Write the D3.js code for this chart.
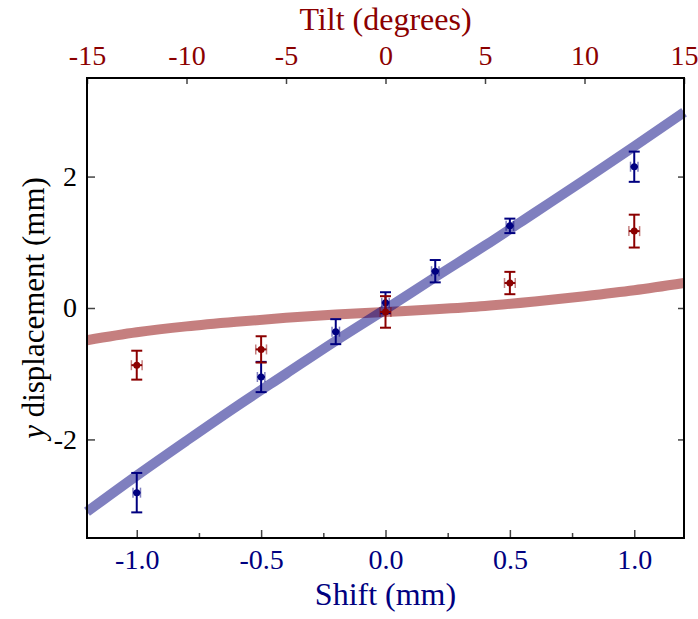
<!DOCTYPE html>
<html>
<head>
<meta charset="utf-8">
<script src="https://cdn.jsdelivr.net/npm/d3@7"></script>
<style>
  body { margin: 0; background: #fff; }
  text { font-family: "Liberation Serif", "DejaVu Serif", serif; }
</style>
</head>
<body>
<script>

// measured points, shift scan (mm)
var shiftX   = [-1.0, -0.5, -0.2, 0.0, 0.2, 0.5, 1.0];
var shiftY   = [-2.81, -1.05, -0.36, 0.08, 0.56, 1.25, 2.15];
var shiftErr = [0.30, 0.23, 0.19, 0.16, 0.17, 0.11, 0.23];
var shiftXErr = 0.015;

// measured points, tilt scan (degrees)
var tiltX   = [-12.5, -6.25, 0, 6.25, 12.5];
var tiltY   = [-0.87, -0.63, -0.06, 0.38, 1.17];
var tiltErr = [0.22, 0.20, 0.24, 0.17, 0.25];
var tiltXErr = 0.27;

// model curves
var shiftFitX = [-1.2, -1.0, -0.8, -0.6, -0.4, -0.2, 0.0, 0.2, 0.4, 0.6, 0.8, 1.0, 1.2];
var shiftFitY = [-3.10, -2.55, -2.02, -1.50, -1.00, -0.50, -0.02, 0.47, 0.95, 1.45, 1.95, 2.46, 2.98];
var tiltFitX = [-15, -12.5, -10, -7.5, -5, -2.5, 0, 2.5, 5, 7.5, 10, 12.5, 15];
var tiltFitY = [-0.49, -0.37, -0.28, -0.21, -0.15, -0.10, -0.06, -0.02, 0.03, 0.10, 0.18, 0.27, 0.38];

var shiftTicks = [-1.0, -0.5, 0.0, 0.5, 1.0];
var shiftMinor = [-0.75, -0.25, 0.25, 0.75];
var tiltTicks = [-15, -10, -5, 0, 5, 10, 15];
var yTicks = [-2, 0, 2];

var width = 698,
    height = 619;
var margin = { left: 87, right: 14, top: 78, bottom: 81 };
var w = width - margin.left - margin.right,
    h = height - margin.top - margin.bottom;

var blue = '#000080',
    red = '#8b0000';

// plain hyphen for negatives, like the original
var fmt1 = d => d3.format('.1f')(d).replace('\u2212', '-');
var fmt0 = d => String(d);

var svg = d3.select('body')
  .append('svg')
  .attr('width', width)
  .attr('height', height);

var g = svg.append('g')
  .attr('transform', 'translate(' + margin.left + ',' + margin.top + ')');

var x = d3.scaleLinear().domain([-1.2, 1.2]).range([0, w]);
var xt = d3.scaleLinear().domain([-15, 15]).range([0, w]);
var y = d3.scaleLinear().domain([-3.5, 3.5]).range([h, 0]);

// axes
var axBottom = g.append('g')
  .attr('transform', 'translate(0,' + h + ')')
  .call(d3.axisBottom(x).tickValues(shiftTicks).tickSize(-8).tickPadding(11).tickFormat(fmt1));
g.append('g')
  .attr('transform', 'translate(0,' + h + ')')
  .call(d3.axisBottom(x).tickValues(shiftMinor).tickSize(-5).tickFormat(''));
var axTop = g.append('g')
  .call(d3.axisTop(xt).tickValues(tiltTicks).tickSize(-6).tickPadding(13).tickFormat(fmt0));
var axLeft = g.append('g')
  .call(d3.axisLeft(y).tickValues(yTicks).tickSize(-8).tickPadding(10).tickFormat(fmt0));
g.append('g')
  .attr('transform', 'translate(' + w + ',0)')
  .call(d3.axisRight(y).tickValues(yTicks).tickSize(-6).tickFormat(''));

g.selectAll('.domain').remove();
g.selectAll('.tick line').attr('stroke', '#444').attr('stroke-width', 1.5);
g.selectAll('.tick text')
  .attr('font-family', '"Liberation Serif", serif')
  .attr('font-size', 28);
axBottom.selectAll('text').attr('fill', blue);
axTop.selectAll('text').attr('fill', red);
axLeft.selectAll('text').attr('fill', '#000');

// fit curves
var line = d3.line().curve(d3.curveMonotoneX);
g.append('path')
  .attr('d', line(tiltFitX.map((d, i) => [xt(d), y(tiltFitY[i])])))
  .attr('fill', 'none')
  .attr('stroke', red)
  .attr('stroke-opacity', 0.5)
  .attr('stroke-width', 10);
g.append('path')
  .attr('d', line(shiftFitX.map((d, i) => [x(d), y(shiftFitY[i])])))
  .attr('fill', 'none')
  .attr('stroke', blue)
  .attr('stroke-opacity', 0.5)
  .attr('stroke-width', 10);

// points with error bars
function errPoints(sx, xs, ys, es, xe, color) {
  var pg = g.append('g').attr('stroke', color).attr('fill', color);
  xs.forEach(function (d, i) {
    var cx = sx(d), cy = y(ys[i]);
    var y0 = y(ys[i] - es[i]), y1 = y(ys[i] + es[i]);
    var x0 = sx(d - xe), x1 = sx(d + xe);
    pg.append('line').attr('x1', cx).attr('x2', cx).attr('y1', y0).attr('y2', y1).attr('stroke-width', 2);
    pg.append('line').attr('x1', cx - 5.5).attr('x2', cx + 5.5).attr('y1', y0).attr('y2', y0).attr('stroke-width', 2);
    pg.append('line').attr('x1', cx - 5.5).attr('x2', cx + 5.5).attr('y1', y1).attr('y2', y1).attr('stroke-width', 2);
    pg.append('line').attr('x1', x0).attr('x2', x1).attr('y1', cy).attr('y2', cy).attr('stroke-width', 2);
    pg.append('line').attr('x1', x0).attr('x2', x0).attr('y1', cy - 5).attr('y2', cy + 5)
      .attr('stroke-width', 1.5).attr('stroke-opacity', 0.5);
    pg.append('line').attr('x1', x1).attr('x2', x1).attr('y1', cy - 5).attr('y2', cy + 5)
      .attr('stroke-width', 1.5).attr('stroke-opacity', 0.5);
    pg.append('circle').attr('cx', cx).attr('cy', cy).attr('r', 3.5).attr('stroke', 'none');
  });
}
errPoints(x, shiftX, shiftY, shiftErr, shiftXErr, blue);
errPoints(xt, tiltX, tiltY, tiltErr, tiltXErr, red);

// frame
g.append('rect')
  .attr('width', w)
  .attr('height', h)
  .attr('fill', 'none')
  .attr('stroke', '#000')
  .attr('stroke-width', 2);

// titles
svg.append('text')
  .attr('x', margin.left + w / 2)
  .attr('y', 30)
  .attr('text-anchor', 'middle')
  .attr('fill', red)
  .style('font-size', '32px')
  .text('Tilt (degrees)');

svg.append('text')
  .attr('x', margin.left + w / 2)
  .attr('y', 605)
  .attr('text-anchor', 'middle')
  .attr('fill', blue)
  .style('font-size', '32px')
  .text('Shift (mm)');

var yl = svg.append('text')
  .attr('transform', 'translate(44,' + (margin.top + h / 2) + ') rotate(-90)')
  .attr('text-anchor', 'middle')
  .attr('fill', '#000')
  .style('font-size', '31px');
yl.append('tspan').style('font-style', 'italic').text('y');
yl.append('tspan').text(' displacement (mm)');

</script>
</body>
</html>
